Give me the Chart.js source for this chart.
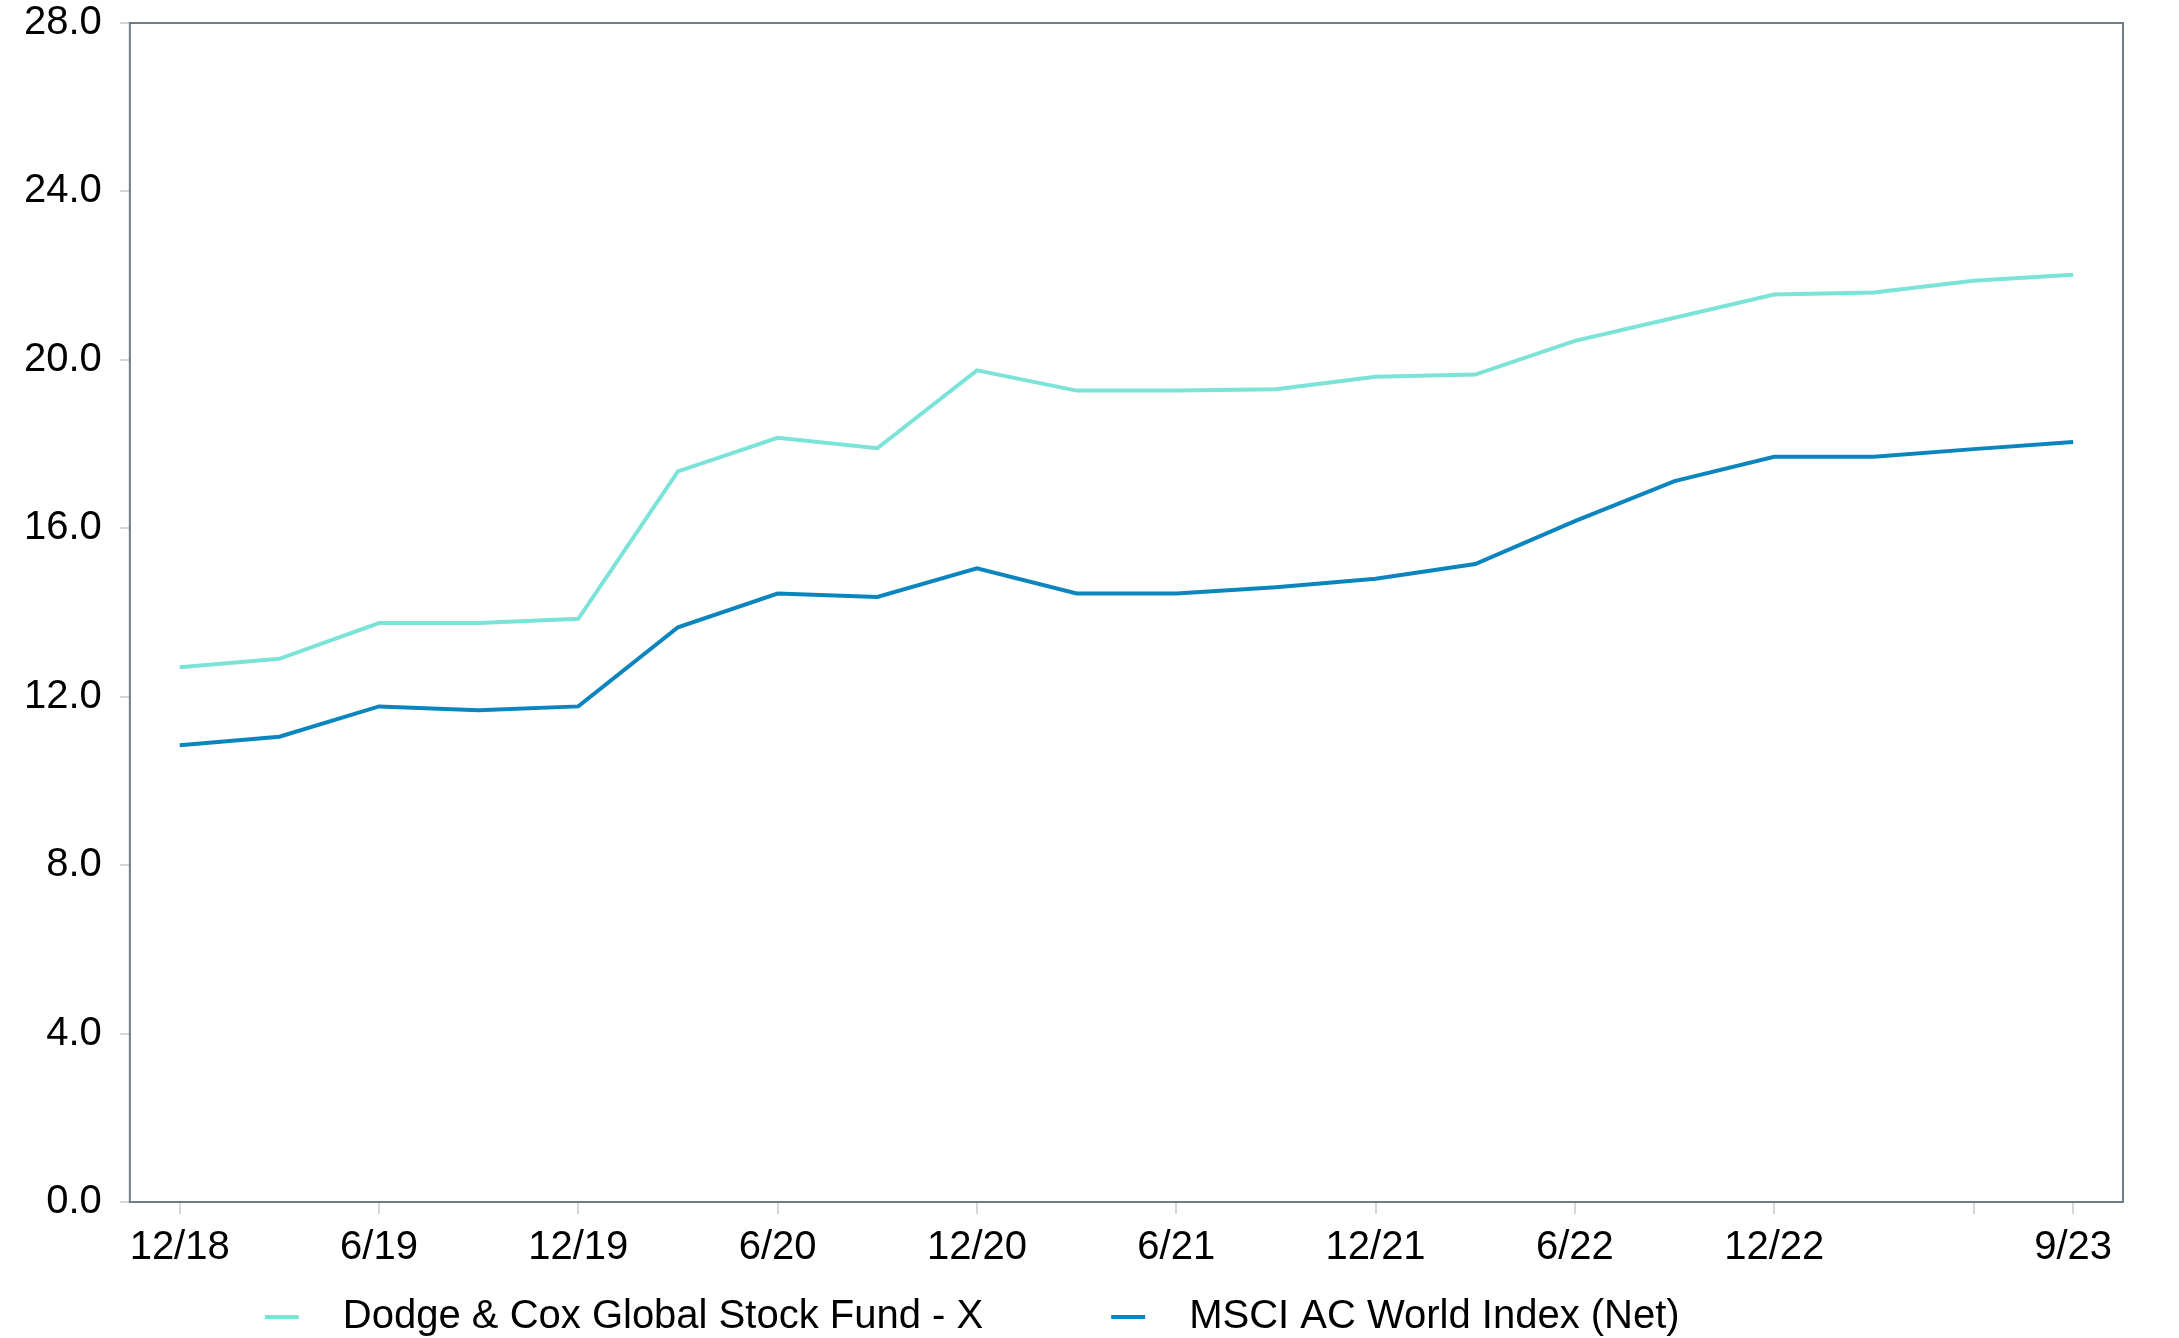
<!DOCTYPE html>
<html>
<head>
<meta charset="utf-8">
<script src="https://cdn.jsdelivr.net/npm/chart.js@4.4.0/dist/chart.umd.min.js"></script>
<style>
    html, body { margin: 0; padding: 0; background: #fff; }
    #wrap { width: 2179px; height: 1338px; }
</style>
</head>
<body>
<div id="wrap"><canvas id="growthChart"></canvas></div>
<script>
    // quarter ends 12/18 .. 9/23
    const quarters = ['12/18', '3/19', '6/19', '9/19', '12/19', '3/20', '6/20', '9/20', '12/20', '3/21',
        '6/21', '9/21', '12/21', '3/22', '6/22', '9/22', '12/22', '3/23', '6/23', '9/23'];
    const shownLabels = ['12/18', '6/19', '12/19', '6/20', '12/20', '6/21', '12/21', '6/22', '12/22', '9/23'];
    const dodgeCox = [12.7, 12.9, 13.75, 13.75, 13.85, 17.35, 18.15, 17.9, 19.75, 19.27,
        19.27, 19.3, 19.6, 19.65, 20.45, 21.0, 21.55, 21.6, 21.88, 22.02];
    const msciAcwi = [10.85, 11.05, 11.77, 11.68, 11.77, 13.65, 14.45, 14.37, 15.05, 14.45,
        14.45, 14.6, 14.8, 15.15, 16.17, 17.12, 17.7, 17.7, 17.88, 18.05];
    const yTicks = [0, 4, 8, 12, 16, 20, 24, 28];

    const FONT = { family: 'Liberation Sans', size: 40 };
    const tickMarked = (i) => i % 2 === 0 || i === quarters.length - 1;

    // box round the plot area
    const frame = {
        id: 'frame',
        afterDraw(chart) {
            const { ctx, chartArea: a } = chart;
            ctx.save();
            ctx.strokeStyle = '#6f7d8b';
            ctx.lineWidth = 2;
            ctx.strokeRect(a.left, a.top, a.right - a.left, a.bottom - a.top);
            ctx.restore();
        }
    };

    // legend under the x labels: short dash, wide gap, text
    const dashLegend = {
        id: 'dashLegend',
        afterDraw(chart) {
            const { ctx, chartArea: a } = chart;
            const y = chart.height - 21;
            let x = a.left + 135;
            ctx.save();
            ctx.font = FONT.size + 'px ' + FONT.family;
            ctx.textBaseline = 'middle';
            ctx.textAlign = 'left';
            chart.data.datasets.forEach(ds => {
                ctx.fillStyle = ds.borderColor;
                ctx.fillRect(x, y - 2, 34, 4);
                x += 78;
                ctx.fillStyle = '#000';
                ctx.fillText(ds.label, x, y);
                x += ctx.measureText(ds.label).width + 128;
            });
            ctx.restore();
        }
    };

    const ctx = document.getElementById('growthChart').getContext('2d');
    new Chart(ctx, {
        type: 'line',
        data: {
            labels: quarters,
            datasets: [{
                label: 'Dodge & Cox Global Stock Fund - X',
                data: dodgeCox,
                borderColor: '#7be3d8',
                borderWidth: 4,
                pointRadius: 0,
                tension: 0
            }, {
                label: 'MSCI AC World Index (Net)',
                data: msciAcwi,
                borderColor: '#0a85bd',
                borderWidth: 4,
                pointRadius: 0,
                tension: 0
            }]
        },
        options: {
            responsive: true,
            maintainAspectRatio: false,
            animation: false,
            layout: { padding: { left: 6, right: 56, top: 0, bottom: 56 } },
            scales: {
                x: {
                    offset: true,
                    border: { display: false },
                    grid: {
                        drawOnChartArea: false,
                        tickLength: 12,
                        lineWidth: 2,
                        color: (c) => tickMarked(c.index) ? '#d6d6d6' : 'rgba(0,0,0,0)'
                    },
                    ticks: {
                        autoSkip: false,
                        maxRotation: 0,
                        padding: 10,
                        color: '#000',
                        font: FONT,
                        callback: function (v, i) {
                            const lbl = quarters[i];
                            return shownLabels.includes(lbl) ? lbl : '';
                        }
                    }
                },
                y: {
                    min: 0,
                    max: 28,
                    border: { display: false },
                    grid: { drawOnChartArea: false, tickLength: 10, lineWidth: 2, color: '#d6d6d6' },
                    afterBuildTicks: (s) => { s.ticks = yTicks.map(v => ({ value: v })); },
                    afterFit: (s) => { s.paddingTop = 23; },
                    ticks: {
                        padding: 18,
                        color: '#000',
                        font: FONT,
                        callback: (v) => v.toFixed(1)
                    }
                }
            },
            plugins: {
                legend: { display: false },
                tooltip: { enabled: false }
            }
        },
        plugins: [frame, dashLegend]
    });
</script>
</body>
</html>
